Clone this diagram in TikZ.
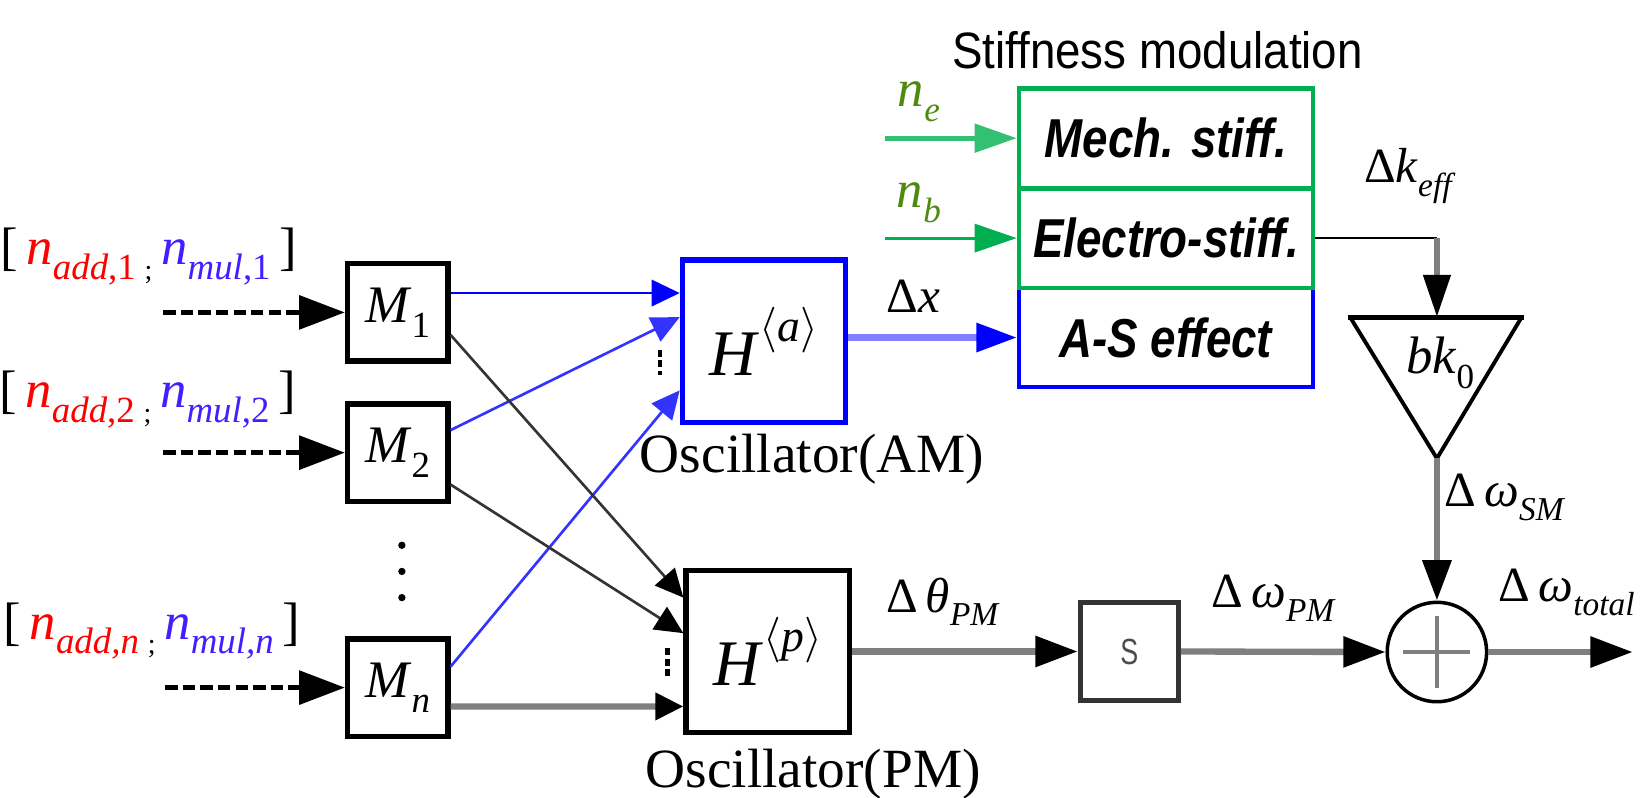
\documentclass[tikz,border=0pt]{standalone}
\usepackage{fix-cm}
\usepackage{graphicx}
\usepackage{fontspec}
\setmainfont{Liberation Serif}
\newfontfamily\arialf{Liberation Sans}
\usetikzlibrary{arrows.meta,calc}
\definecolor{gline}{HTML}{7F7F7F}
\definecolor{offgreen}{HTML}{00B050}
\definecolor{lblue}{HTML}{8080FF}
\definecolor{nred}{HTML}{FF0000}
\definecolor{nblue}{HTML}{4020FF}
\definecolor{ngreen}{HTML}{4E8A10}
\definecolor{dline}{HTML}{333333}
\newcommand\uu{0.020931cm}
\newcommand\lsub[2]{\raisebox{-0.28em}{\fontsize{#1}{#1}\selectfont #2}}
\tikzset{
  mbox/.style={draw=black, line width=3pt, fill=white, minimum width={96*\uu}, minimum height={93*\uu}, inner sep=0pt, font=\fontsize{30}{32}\selectfont},
  hbox/.style={line width=3pt, fill=white, minimum width={156*\uu}, minimum height={155*\uu}, inner sep=0pt, font=\fontsize{37}{40}\selectfont},
  sbox/.style={draw=black!80, line width=2.8pt, fill=white, minimum width={94*\uu}, minimum height={93*\uu}, inner sep=0pt},
  stiff/.style={line width=2.4pt, fill=white, minimum width={281*\uu}, minimum height={95*\uu}, inner sep=0pt, font=\arialf\bfseries\itshape\fontsize{26}{28}\selectfont},
  sym/.style={inner sep=0pt, font=\fontsize{28}{30}\selectfont},
  bigsym/.style={inner sep=0pt, font=\fontsize{30}{32}\selectfont},
  gthick/.style={draw=gline, line width=3.6pt},
  abig/.style={-{Triangle[length=24pt,width=17pt,color=black]}},
  adash/.style={-{Triangle[length=26pt,width=19pt,color=black]}},
  asmall/.style={-{Triangle[length=16pt,width=15pt]}},
  asmallk/.style={-{Triangle[length=16pt,width=15pt,color=black]}},
  agreen/.style={-{Triangle[length=24pt,width=16pt]}},
}
\begin{document}
\begin{tikzpicture}[x=\uu,y=-\uu]
\fill[white] (0,0) rectangle (1568,762);
\useasboundingbox (0,0) rectangle (1568,762);

% title
\node[font=\arialf\fontsize{26}{28}\selectfont] (title) at (1106,48) {\scalebox{1}[1.12]{Stiffness modulation}};

% stiffness boxes
\node[stiff, draw=blue] (AS) at (1114,322.5) {\scalebox{1}[1.2]{A-S effect}};
\node[stiff, draw=offgreen] (Elec) at (1114,227.5) {\scalebox{1}[1.2]{Electro-stiff.}};
\node[stiff, draw=offgreen] (Mech) at (1114,132) {\scalebox{1}[1.2]{Mech. stiff.}};

% input labels
\node[bigsym] (L1) at (142,245) {[\,\textcolor{nred}{\textit{n}\lsub{21}{\textit{add},1}}\,\lsub{16}{;}\,\textcolor{nblue}{\textit{n}\lsub{21}{\textit{mul},1}}\,]};
\node[bigsym] (L2) at (141,382) {[\,\textcolor{nred}{\textit{n}\lsub{21}{\textit{add},2}}\,\lsub{16}{;}\,\textcolor{nblue}{\textit{n}\lsub{21}{\textit{mul},2}}\,]};
\node[bigsym] (L3) at (145,603) {[\,\textcolor{nred}{\textit{n}\lsub{21}{\textit{add,n}}}\,\lsub{16}{;}\,\textcolor{nblue}{\textit{n}\lsub{21}{\textit{mul,n}}}\,]};

% M boxes
\node[mbox] (M1) at (380,298.5) {\textit{M}\lsub{21}{1}};
\node[mbox] (M2) at (380,432.5) {\textit{M}\lsub{21}{2}};
\node[mbox] (Mn) at (380,657) {\textit{M}\lsub{21}{\textit{n}}};
\fill (384,521) circle (3.5);
\fill (384,546) circle (3.5);
\fill (384,571) circle (3.5);

\coordinate (d1) at (156,298.5);
\coordinate (d2) at (156,432.5);
\coordinate (d3) at (158,657);
\draw[line width=2.7pt, dash pattern=on 7pt off 3pt, adash] (d1) -- (M1.west);
\draw[line width=2.7pt, dash pattern=on 7pt off 3pt, adash] (d2) -- (M2.west);
\draw[line width=2.7pt, dash pattern=on 7pt off 3pt, adash] (d3) -- (Mn.west);

% oscillators
\node[hbox, draw=blue] (Ha) at (730,326) {\textit{H}\raisebox{0.52em}{\fontsize{26}{28}\selectfont$\langle$\textit{a}$\rangle$}};
\node[hbox, draw=black] (Hp) at (733.5,622.5) {\textit{H}\raisebox{0.52em}{\fontsize{26}{28}\selectfont$\langle$\textit{p}$\rangle$}};
\node[font=\fontsize{31.5}{34}\selectfont, inner sep=0pt] (oscam) at (776,439) {Oscillator(AM)};
\node[font=\fontsize{31.5}{34}\selectfont, inner sep=0pt] (oscpm) at (777,740) {Oscillator(PM)};

\draw[line width=2.6pt, dash pattern=on 4pt off 2pt] ($(Ha.west)+(-19,8)$) -- ($(Ha.west)+(-19,32)$);
\draw[line width=2.6pt, dash pattern=on 4pt off 2pt] ($(Hp.west)+(-15,-3)$) -- ($(Hp.west)+(-15,23)$);

% M -> oscillators
\draw[blue, line width=1.5pt, asmall] ($(M1.east)+(0,-18.5)$) -- ($(Ha.west)+(0,-46)$);
\draw[blue!80, line width=1.5pt, asmall] ($(M2.east)+(0,-21.5)$) -- ($(Ha.west)+(0,-23)$);
\draw[blue!80, line width=1.5pt, asmall] ($(Mn.east)+(0,-20)$) -- ($(Ha.west)+(0,47)$);
\draw[dline, line width=1.5pt, asmallk] ($(M1.east)+(0,21.5)$) -- ($(Hp.west)+(0,-51.5)$);
\draw[dline, line width=1.5pt, asmallk] ($(M2.east)+(0,30.5)$) -- ($(Hp.west)+(0,-17.5)$);
\draw[gthick, asmallk] ($(Mn.east)+(0,18)$) -- ($(Hp.west)+(0,52.5)$);

% stiffness inputs
\coordinate (ge) at (846,132);
\coordinate (gb) at (846,227.5);
\draw[offgreen!80, line width=2.8pt, agreen] (ge) -- (Mech.west);
\draw[offgreen, line width=1.8pt, agreen] (gb) -- (Elec.west);
\draw[lblue, line width=3.5pt, -{Triangle[length=23pt,width=16pt,color=blue]}] (Ha.east |- AS.west) -- (AS.west);
\node[sym, text=ngreen, font=\fontsize{30}{32}\selectfont] (ne) at (878,97) {\textit{n}\lsub{20}{\textit{e}}};
\node[sym, text=ngreen, font=\fontsize{30}{32}\selectfont] (nb) at (878,194) {\textit{n}\lsub{20}{\textit{b}}};
\node[sym] (dx) at (873,283) {Δ\textit{x}};

% triangle gain
\coordinate (tritop) at (1373,303);
\coordinate (tribot) at (1373,438);
\draw[line width=2.2pt, line join=miter] (1290,303) -- (tribot) -- (1454,303);
\draw[line width=2.8pt] (1288,303) -- (1456,303);
\node[bigsym] (bk) at (1376,347) {\textit{bk}\lsub{20}{0}};
\draw[line width=1.2pt] (Elec.east) -- (Elec.east -| tritop);
\draw[gthick, -{Triangle[length=24pt,width=15pt,color=black]}] (Elec.east -| tritop) -- (tritop);
\node[sym] (dk) at (1347,168) {Δ\textit{k}\lsub{19}{\textit{eff}}};

% S and summing junction
\node[sbox] (S) at (1079,622.5) {\arialf\fontsize{18}{20}\selectfont\textcolor{black!70}{\scalebox{0.85}[1.15]{S}}};
\node[circle, draw, line width=2pt, fill=white, minimum size={95*\uu}, inner sep=0pt] (Sum) at (1373,623) {};
\draw[gline, line width=1.8pt] ($(Sum.center)+(-32,0)$) -- ($(Sum.center)+(32,0)$);
\draw[gline, line width=1.8pt] ($(Sum.center)+(0,-34)$) -- ($(Sum.center)+(0,34)$);
\coordinate (out) at (1560,623);

\draw[gthick, -{Triangle[length=23pt,width=16pt,color=black]}] (tribot) -- (Sum.north);
\draw[gthick, abig] (Hp.east) -- (S.west);
\draw[gthick, abig] (S.east) -- (Sum.west);
\draw[gthick, abig] (Sum.east) -- (out);

\node[sym] (dth) at (901,575) {Δ\,\textit{θ}\lsub{19}{\textit{PM}}};
\node[sym] (dwpm) at (1217,572) {Δ\,\textit{ω}\lsub{19}{\textit{PM}}};
\node[sym] (dwsm) at (1438,475) {Δ\,\textit{ω}\lsub{19}{\textit{SM}}};
\node[sym] (dwt) at (1497,566) {Δ\,\textit{ω}\lsub{19}{\textit{total}}};
\end{tikzpicture}
\end{document}
